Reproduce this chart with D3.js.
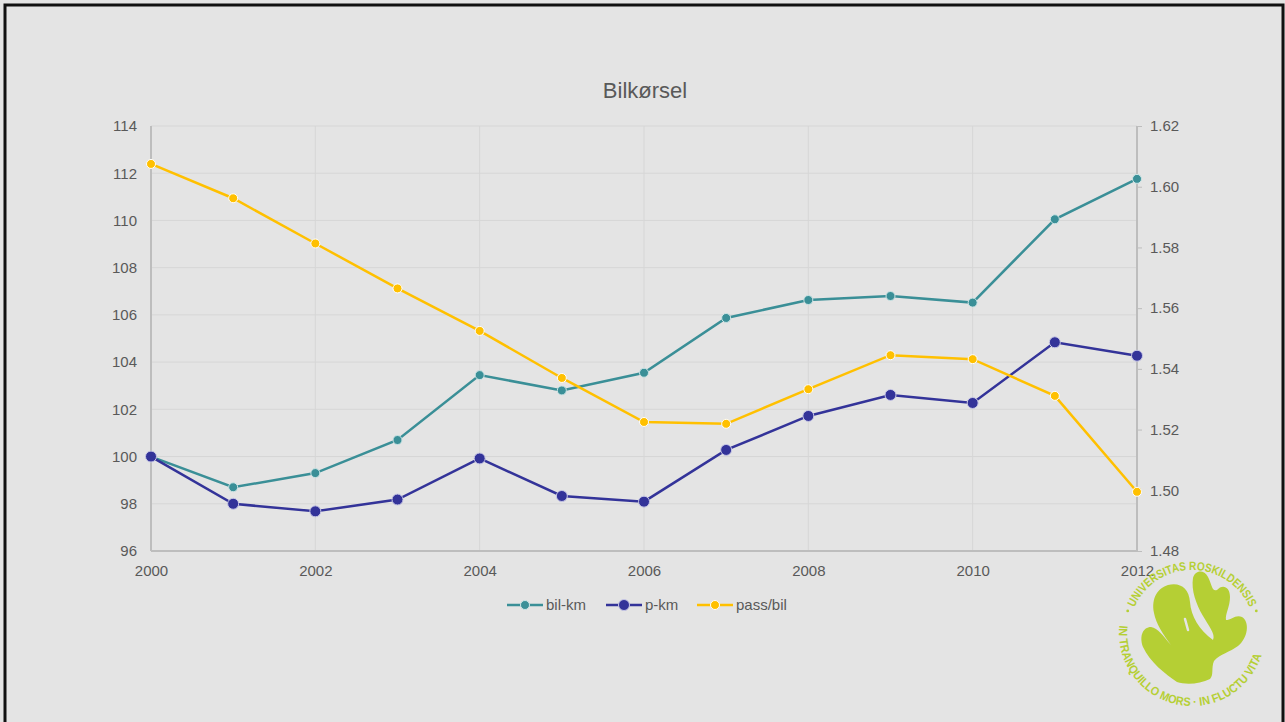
<!DOCTYPE html>
<html>
<head>
<meta charset="utf-8">
<script src="https://cdn.jsdelivr.net/npm/d3@7"></script>
<style>
  html, body { margin: 0; padding: 0; background: #e4e4e4; }
  svg { display: block; font-family: "Liberation Sans", Arial, sans-serif; }
</style>
</head>
<body>
<svg id="chart" width="1285" height="722"></svg>
<script>
// chart data
const years = [2000, 2001, 2002, 2003, 2004, 2005, 2006, 2007, 2008, 2009, 2010, 2011, 2012];
const bilKm = [100, 98.7, 99.3, 100.7, 103.45, 102.8, 103.55, 105.87, 106.63, 106.8, 106.52, 110.05, 111.76];
const pKm = [100, 98.0, 97.68, 98.18, 99.92, 98.33, 98.09, 100.28, 101.72, 102.61, 102.27, 104.84, 104.27];
const passBil = [1.6075, 1.5962, 1.5813, 1.5665, 1.5525, 1.537, 1.5225, 1.5219, 1.5333, 1.5445, 1.5432, 1.5311, 1.4995];
const leftTicks = [96, 98, 100, 102, 104, 106, 108, 110, 112, 114];
const rightTicks = [1.48, 1.50, 1.52, 1.54, 1.56, 1.58, 1.60, 1.62];
const xTicks = [2000, 2002, 2004, 2006, 2008, 2010, 2012];
const seriesNames = ['bil-km', 'p-km', 'pass/bil'];

const margin = { top: 126, right: 148, bottom: 171, left: 151 };
const width = 1285 - margin.left - margin.right;
const height = 722 - margin.top - margin.bottom;
const textColor = '#595959';

const svg = d3.select('#chart');

// background + frame
svg.append('rect').attr('width', 1285).attr('height', 722).attr('fill', '#e4e4e4');
svg.append('path')
  .attr('d', 'M5,722 L5,5 L1283,5 L1283,722')
  .attr('fill', 'none')
  .attr('stroke', '#111')
  .attr('stroke-width', 3);

svg.append('text')
  .attr('x', 645)
  .attr('y', 98)
  .attr('text-anchor', 'middle')
  .style('font-size', '22px')
  .style('fill', textColor)
  .text('Bilkørsel');

const g = svg.append('g')
  .attr('transform', 'translate(' + margin.left + ',' + margin.top + ')');

const x = d3.scaleLinear().domain([2000, 2012]).range([0, width]);
const y = d3.scaleLinear().domain([96, 114]).range([height, 0]);
const y2 = d3.scaleLinear().domain([1.48, 1.62]).range([height, 0]);

// grid
g.append('g')
  .selectAll('line')
  .data(leftTicks)
  .join('line')
  .attr('x1', 0)
  .attr('x2', width)
  .attr('y1', (d) => y(d))
  .attr('y2', (d) => y(d))
  .attr('stroke', '#d6d6d6')
  .attr('stroke-width', 1);
g.append('g')
  .selectAll('line')
  .data(xTicks)
  .join('line')
  .attr('x1', (d) => x(d))
  .attr('x2', (d) => x(d))
  .attr('y1', 0)
  .attr('y2', height)
  .attr('stroke', '#d6d6d6')
  .attr('stroke-width', 1);

// axes
const leftAxis = g.append('g')
  .call(d3.axisLeft(y).tickValues(leftTicks).tickSize(0).tickPadding(14));
const rightAxis = g.append('g')
  .attr('transform', 'translate(' + width + ',0)')
  .call(d3.axisRight(y2).tickValues(rightTicks).tickSize(5).tickPadding(8).tickFormat(d3.format('.2f')));
const bottomAxis = g.append('g')
  .attr('transform', 'translate(0,' + height + ')')
  .call(d3.axisBottom(x).tickValues(xTicks).tickSize(0).tickPadding(14).tickFormat(d3.format('d')));

[leftAxis, rightAxis, bottomAxis].forEach((a) => {
  a.select('.domain').attr('stroke', '#bdbdbd').attr('stroke-width', 2);
  a.selectAll('.tick line').attr('stroke', '#bdbdbd');
  a.selectAll('text').style('font-size', '15px').style('fill', textColor);
});
leftAxis.select('.domain').attr('d', 'M0,0V' + height);
bottomAxis.select('.domain').attr('d', 'M0,0H' + width);
rightAxis.select('.domain').attr('d', 'M0,0V' + height);

// series
const series = [
  { name: seriesNames[0], values: bilKm, scale: y, color: '#3a8f97', r: 4.5, halo: '#cde5e6', w: 2.5 },
  { name: seriesNames[1], values: pKm, scale: y, color: '#333399', r: 5.5, halo: '#c8c8e6', w: 2.5 },
  { name: seriesNames[2], values: passBil, scale: y2, color: '#ffc000', r: 4.5, halo: '#ffffff', w: 2.5 },
];

series.forEach((s) => {
  const line = d3.line()
    .x((d, i) => x(years[i]))
    .y((d) => s.scale(d));
  g.append('path')
    .datum(s.values)
    .attr('fill', 'none')
    .attr('stroke', s.color)
    .attr('stroke-width', s.w)
    .attr('d', line);
  g.append('g')
    .selectAll('circle')
    .data(s.values)
    .join('circle')
    .attr('cx', (d, i) => x(years[i]))
    .attr('cy', (d) => s.scale(d))
    .attr('r', s.r)
    .attr('fill', s.color)
    .attr('stroke', s.halo)
    .attr('stroke-width', 1);
});

// legend
const legendX = [507, 606, 697];
const legend = svg.append('g').attr('transform', 'translate(0,605)');
series.forEach((s, i) => {
  const lg = legend.append('g').attr('transform', 'translate(' + legendX[i] + ',0)');
  lg.append('line')
    .attr('x1', 0).attr('x2', 36).attr('y1', 0).attr('y2', 0)
    .attr('stroke', s.color).attr('stroke-width', 2.5);
  lg.append('circle')
    .attr('cx', 18).attr('cy', 0).attr('r', s.r)
    .attr('fill', s.color).attr('stroke', s.halo).attr('stroke-width', 1);
  lg.append('text')
    .attr('x', 39).attr('y', 0).attr('dy', '0.35em')
    .style('font-size', '15px').style('fill', textColor)
    .text(s.name);
});

// seal logo (centre 1192,633)
const green = '#b5cf34';
const cx = 1192, cy = 633;
const pt = (r, deg) => {
  const a = deg * Math.PI / 180;
  return (cx + r * Math.cos(a)).toFixed(1) + ',' + (cy + r * Math.sin(a)).toFixed(1);
};
const defs = svg.append('defs');
const rTop = 63, rBot = 73;
defs.append('path').attr('id', 'arcTop')
  .attr('d', 'M' + pt(rTop, 204) + ' A' + rTop + ',' + rTop + ' 0 0,1 ' + pt(rTop, 336));
defs.append('path').attr('id', 'arcBot')
  .attr('d', 'M' + pt(rBot, 186) + ' A' + rBot + ',' + rBot + ' 0 1,0 ' + pt(rBot, 354));

const topLen = rTop * (132 * Math.PI / 180);
const botLen = rBot * (168 * Math.PI / 180);

svg.append('text')
  .style('font-size', '12px').style('font-weight', 'bold').style('fill', green)
  .append('textPath').attr('href', '#arcTop')
  .attr('textLength', topLen).attr('lengthAdjust', 'spacingAndGlyphs')
  .text('UNIVERSITAS ROSKILDENSIS');
svg.append('text')
  .style('font-size', '12px').style('font-weight', 'bold').style('fill', green)
  .append('textPath').attr('href', '#arcBot')
  .attr('textLength', botLen).attr('lengthAdjust', 'spacingAndGlyphs')
  .text('IN TRANQUILLO MORS · IN FLUCTU VITA');
[199, 341].forEach((deg) => {
  const p = pt(68, deg).split(',');
  svg.append('circle').attr('cx', p[0]).attr('cy', p[1]).attr('r', 1.4).attr('fill', green);
});

svg.append('path')
  .attr('fill', green)
  .attr('d', 'M1177,682 C1165,674 1150,662 1143,647 C1139,636 1143,627 1151,627 ' +
    'C1158,628 1163,636 1171,645 C1163,634 1156,624 1154,613 C1151,598 1158,588 1168,585 ' +
    'C1180,582 1189,588 1190,602 C1191,616 1199,630 1213,640 C1216,634 1208,625 1203,616 ' +
    'C1196,604 1191,590 1193,578 C1195,570 1204,569 1208,577 C1212,585 1212,592 1217,590 ' +
    'C1222,584 1230,586 1230,597 C1230,607 1225,614 1226,620 C1231,620 1236,614 1242,617 ' +
    'C1250,622 1248,638 1238,646 C1230,652 1220,654 1214,661 C1211,668 1214,675 1210,679 ' +
    'C1200,684 1186,685 1177,682 Z');
svg.append('path')
  .attr('fill', 'none')
  .attr('stroke', '#e4e4e4')
  .attr('stroke-width', 2.5)
  .attr('stroke-linecap', 'round')
  .attr('d', 'M1185,619 L1188,630');
</script>
</body>
</html>
